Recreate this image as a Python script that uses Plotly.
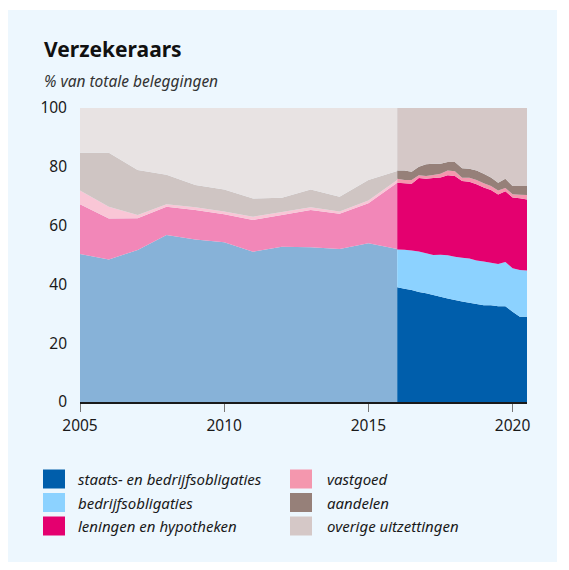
import plotly.graph_objects as go

# ---- data: annual, 2005-2016 (faded series, aggregated obligaties) ----
years_pre = [2005, 2006, 2007, 2008, 2009, 2010, 2011, 2012, 2013, 2014, 2015, 2016]
pre_obligaties = [50.3, 48.5, 51.7, 56.8, 55.3, 54.3, 51.1, 52.8, 52.6, 52.0, 54.0, 52.0]
pre_leningen = [17.0, 13.9, 10.8, 9.6, 10.0, 9.6, 10.8, 10.8, 12.7, 12.0, 13.6, 22.6]
pre_vastgoed = [4.6, 4.0, 1.1, 0.9, 0.9, 0.9, 1.1, 1.0, 0.9, 0.8, 0.9, 0.9]
pre_aandelen = [12.9, 18.4, 15.3, 10.0, 7.6, 7.5, 6.2, 4.9, 6.1, 5.0, 7.0, 3.1]
pre_overige = [15.2, 15.2, 21.1, 22.7, 26.2, 27.7, 30.8, 30.5, 27.7, 30.2, 24.5, 21.4]

# ---- data: quarterly, 2016-2020 ----
quarters = [2016.0, 2016.25, 2016.5, 2016.75, 2017.0, 2017.25, 2017.5, 2017.75,
            2018.0, 2018.25, 2018.5, 2018.75, 2019.0, 2019.25, 2019.5, 2019.75,
            2020.0, 2020.25, 2020.5]
staats = [39.0, 38.5, 38.1, 37.4, 37.0, 36.4, 35.8, 35.2, 34.7, 34.2, 33.8, 33.3,
          32.9, 32.9, 32.6, 32.6, 30.7, 29.0, 29.0]
bedrijf = [12.9, 13.3, 13.4, 13.8, 13.6, 13.6, 14.3, 14.7, 14.7, 14.9, 15.0, 14.8,
           14.9, 14.5, 14.3, 15.0, 14.8, 15.9, 15.7]
leningen = [22.7, 22.6, 22.7, 25.0, 25.3, 26.2, 26.3, 27.2, 27.5, 26.1, 26.1, 26.0,
            25.2, 24.7, 23.7, 24.1, 24.1, 24.4, 24.2]
vastgoed = [1.3, 1.1, 1.3, 0.9, 1.0, 1.0, 1.2, 1.6, 1.6, 1.1, 1.4, 1.4,
            1.4, 1.4, 1.3, 1.1, 1.1, 1.2, 1.5]
aandelen = [2.8, 3.2, 2.8, 2.9, 4.0, 3.8, 3.4, 2.9, 3.1, 3.2, 3.0, 3.2,
            3.2, 2.9, 2.7, 3.1, 2.8, 3.0, 3.1]
overige = [21.3, 21.3, 21.7, 20.0, 19.1, 19.0, 19.0, 18.4, 18.4, 20.5, 20.7, 21.3,
           22.4, 23.6, 25.4, 24.1, 26.5, 26.5, 26.5]

legend_labels = ["staats- en bedrijfsobligaties", "bedrijfsobligaties",
                 "leningen en hypotheken", "vastgoed", "aandelen", "overige uitzettingen"]
x_ticks = [2005, 2010, 2015, 2020]
y_ticks = [0, 20, 40, 60, 80, 100]

post_colors = ["#005EAB", "#8CD2FF", "#E4006F", "#F497AE", "#968079", "#D5C8C7"]
pre_colors = ["#87B2D8", "#F287B8", "#F9C6D6", "#CFC5C3", "#E8E3E3"]

FONT = "Noto Sans"
TXT = "#1a1a1a"
BG = "#EDF7FE"

fig = go.Figure()

for vals, col in zip([pre_obligaties, pre_leningen, pre_vastgoed, pre_aandelen, pre_overige], pre_colors):
    fig.add_trace(go.Scatter(x=years_pre, y=vals, stackgroup="pre", mode="none",
                             fillcolor=col, showlegend=False, hoverinfo="skip"))

for vals, col, name in zip([staats, bedrijf, leningen, vastgoed, aandelen, overige], post_colors, legend_labels):
    fig.add_trace(go.Scatter(x=quarters, y=vals, stackgroup="post", mode="none",
                             fillcolor=col, name=name, showlegend=False))

# page offset (body margin) and figure size
OFF = 8
FW, FH = 561, 562
# plot area geometry in page pixels
L, R, T, B = 80, 527, 108, 402
W, H = R - L, B - T

def px(x):
    return (x - L) / W

def py(y):
    return (B - y) / H

shapes = [dict(type="rect", xref="paper", yref="paper", x0=px(8), x1=px(557),
               y0=py(562), y1=py(10), fillcolor=BG, line=dict(width=0), layer="below")]
annotations = [
    dict(text="<b>Verzekeraars</b>", xref="paper", yref="paper", x=px(42), y=py(49),
         xanchor="left", yanchor="middle", showarrow=False,
         font=dict(family=FONT, size=21, color="#111111")),
    dict(text="<i>% van totale beleggingen</i>", xref="paper", yref="paper", x=px(42), y=py(81),
         xanchor="left", yanchor="middle", showarrow=False,
         font=dict(family=FONT, size=15.5, color="#333333")),
]

# manual legend (two columns, three rows)
order = [0, 3, 1, 4, 2, 5]
col_sq_x = [43, 290]
col_tx_x = [76, 325]
row_y = [479, 502.5, 526]
for k, idx in enumerate(order):
    c, r = k % 2, k // 2
    shapes.append(dict(type="rect", xref="paper", yref="paper",
                       x0=px(col_sq_x[c]), x1=px(col_sq_x[c] + 22),
                       y0=py(row_y[r] + 9.5), y1=py(row_y[r] - 9.5),
                       fillcolor=post_colors[idx], line=dict(width=0)))
    annotations.append(dict(text="<i>" + legend_labels[idx] + "</i>", xref="paper", yref="paper",
                            x=px(col_tx_x[c]), y=py(row_y[r]), xanchor="left", yanchor="middle",
                            showarrow=False, font=dict(family=FONT, size=15, color=TXT)))

fig.update_layout(
    width=FW, height=FH,
    margin=dict(l=L - OFF, r=FW - (R - OFF), t=T - OFF, b=FH - (B - OFF), pad=0),
    paper_bgcolor="white", plot_bgcolor="rgba(0,0,0,0)",
    showlegend=False,
    shapes=shapes, annotations=annotations,
    xaxis=dict(range=[2005, 2020.5], tickvals=x_ticks, ticktext=[str(v) for v in x_ticks],
               showgrid=False, zeroline=False, showline=True, linecolor="#1a1a1a", linewidth=2,
               ticks="outside", ticklen=8, tickcolor="#777777", tickwidth=1,
               tickfont=dict(family=FONT, size=15.5, color=TXT), fixedrange=True),
    yaxis=dict(range=[0, 100], tickvals=y_ticks, ticktext=[str(v) for v in y_ticks],
               showgrid=False, zeroline=False, showline=False, ticks="", ticklabelstandoff=12,
               tickfont=dict(family=FONT, size=15.5, color=TXT), fixedrange=True),
)

fig.write_html("out.html")
